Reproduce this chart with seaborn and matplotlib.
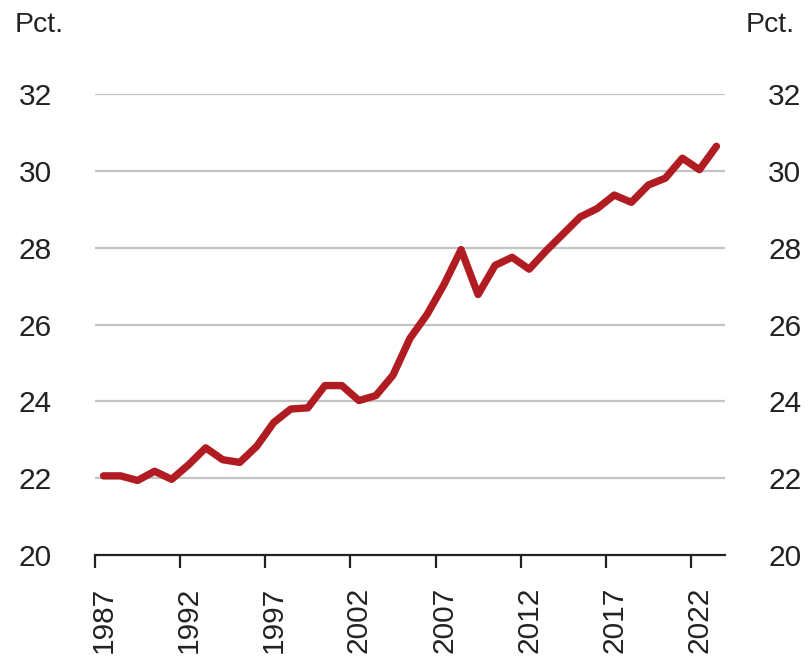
import matplotlib
matplotlib.use("Agg")
import matplotlib.pyplot as plt
import seaborn as sns
import numpy as np
import pandas as pd

years = list(range(1987, 2024))
share = [22.06, 22.06, 21.94, 22.18, 21.97, 22.35, 22.79, 22.48, 22.41, 22.83,
         23.45, 23.80, 23.83, 24.41, 24.41, 24.02, 24.15, 24.68, 25.64, 26.26,
         27.04, 27.95, 26.78, 27.54, 27.75, 27.44, 27.92, 28.36, 28.80, 29.02,
         29.37, 29.18, 29.63, 29.81, 30.33, 30.03, 30.64]
y_ticks = [20, 22, 24, 26, 28, 30, 32]
label_years = [1987, 1992, 1997, 2002, 2007, 2012, 2017, 2022]

df = pd.DataFrame({"year": years, "share": share})

sns.set_style("white")
plt.rcParams['font.family'] = ['Liberation Sans', 'DejaVu Sans']

fig = plt.figure(figsize=(8.1, 6.63), dpi=100)
ax = fig.add_axes([0.1173, 0.1629, 0.7777, 0.6953])

for t in y_ticks[1:]:
    ax.axhline(t, color="#c4c4c4", lw=1.6, zorder=0)

sns.lineplot(data=df, x="year", y="share", ax=ax, color="#b01c22", lw=5.3,
             solid_capstyle="round", solid_joinstyle="round", zorder=3)

ax.set_xlim(years[0] - 0.5, years[-1] + 0.5)
ax.set_ylim(y_ticks[0], y_ticks[-1])
ax.set_xlabel("")
ax.set_ylabel("")

# year labels at the band centres, tick marks at band edges
ax.set_xticks(label_years)
ax.set_xticklabels([str(y) for y in label_years], rotation=90, fontsize=21.5,
                   color="#222222")
ax.set_xticks([y - 0.5 for y in label_years], minor=True)
ax.tick_params(axis="x", which="major", bottom=True, length=0, pad=23)
ax.tick_params(axis="x", which="minor", bottom=True, length=9.5, width=1.6,
               color="#222222")

ax.set_yticks(y_ticks)
ax.set_yticklabels([str(t) for t in y_ticks], fontsize=21.5, color="#222222")
ax.tick_params(axis="y", which="both", length=0, pad=31,
               left=True, right=True, labelleft=True, labelright=True)

for side in ["left", "right", "top"]:
    ax.spines[side].set_visible(False)
ax.spines["bottom"].set_color("#222222")
ax.spines["bottom"].set_linewidth(1.6)

fig.text(15 / 810, 1 - 12 / 663, "Pct.", fontsize=20.5, color="#222222",
         ha="left", va="top")
fig.text(795 / 810, 1 - 12 / 663, "Pct.", fontsize=20.5, color="#222222",
         ha="right", va="top")

fig.savefig("out.png", dpi=100)
